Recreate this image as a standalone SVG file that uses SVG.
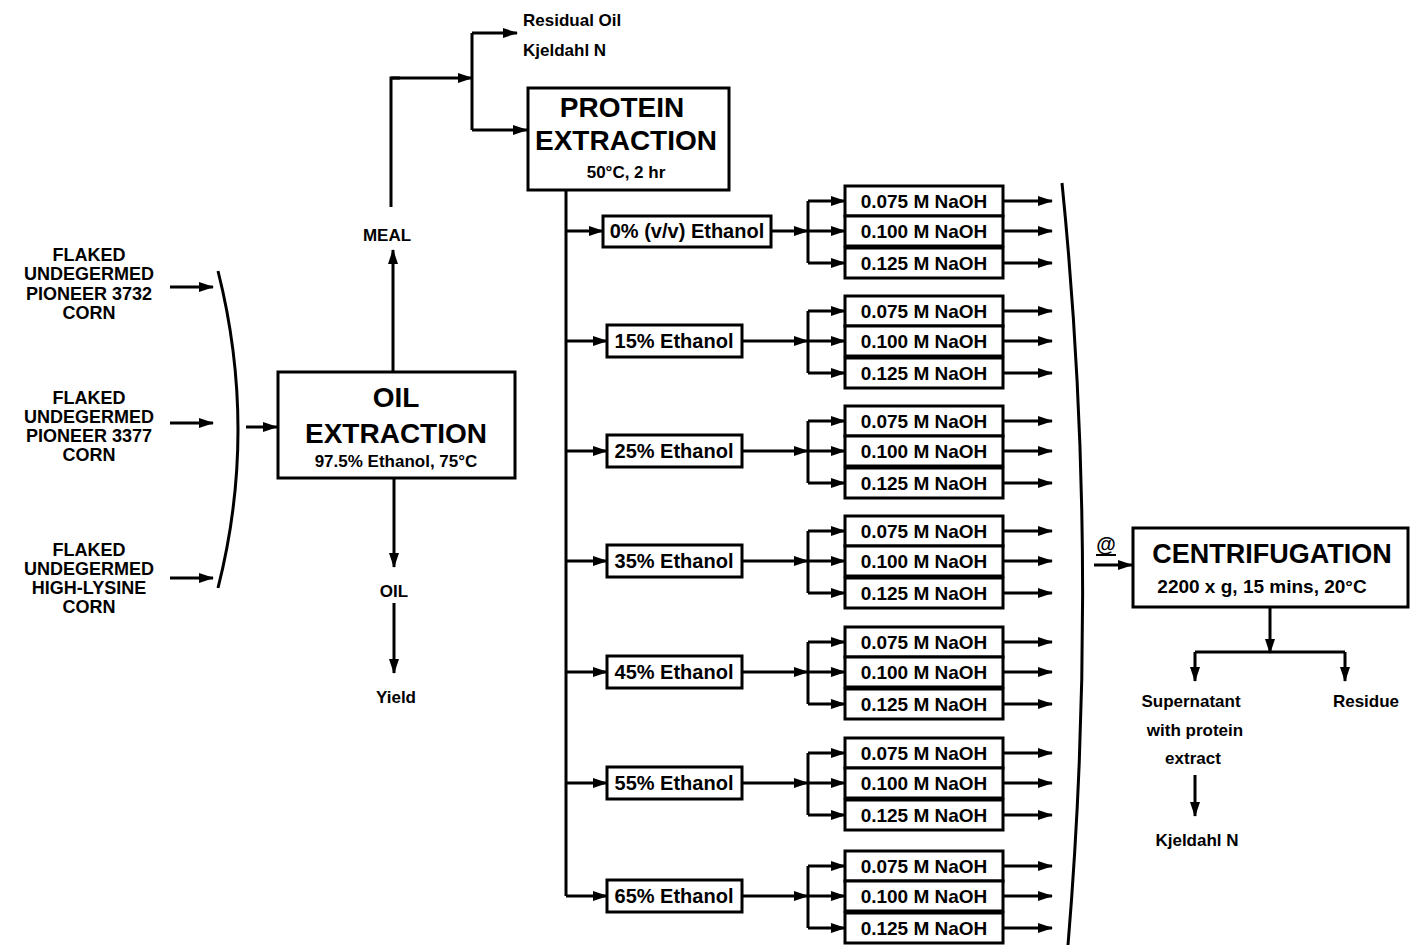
<svg xmlns="http://www.w3.org/2000/svg" width="1413" height="945" viewBox="0 0 1413 945">
<style>
text{font-family:"Liberation Sans",Arial,sans-serif;font-weight:bold;fill:#000}
.c{text-anchor:middle}
.box{fill:#fff;stroke:#000;stroke-width:3}
.ln{fill:none;stroke:#000;stroke-width:3}
.ar{fill:none;stroke:#000;stroke-width:3;marker-end:url(#ah)}
.big{font-size:28px}
.mid{font-size:19px}
.corn{font-size:18px}
.sm{font-size:17px}
.eth{font-size:20px}
.na{font-size:19px}
</style>
<defs>
<marker id="ah" markerUnits="userSpaceOnUse" markerWidth="15" markerHeight="10" refX="14" refY="5" orient="auto">
<path d="M0,0 L15,5 L0,10 z" fill="#000"/>
</marker>
</defs>
<rect width="1413" height="945" fill="#fff"/>

<g id="connectors">
<path class="ar" d="M170,287 H213"/>
<path class="ar" d="M170,423 H213"/>
<path class="ar" d="M170,578 H213"/>
<path class="ln" d="M218,271 Q258,430 218,588"/>
<path class="ar" d="M246,427 H277"/>
<path class="ar" d="M393,372 V250"/>
<path class="ln" d="M391,207 V78 H400"/>
<path class="ar" d="M391,78 H472"/>
<path class="ln" d="M472,33 V130"/>
<path class="ar" d="M472,33 H517"/>
<path class="ar" d="M472,130 H527"/>
<path class="ar" d="M394,478 V567"/>
<path class="ar" d="M394,603 V673"/>
<path class="ln" d="M566,190 V896"/>
<path class="ar" d="M566,231 H603"/>
<path class="ar" d="M566,341 H607"/>
<path class="ar" d="M566,451 H607"/>
<path class="ar" d="M566,561 H607"/>
<path class="ar" d="M566,672 H607"/>
<path class="ar" d="M566,783 H607"/>
<path class="ar" d="M566,896 H607"/>
<path class="ar" d="M771,231 H808"/>
<path class="ar" d="M742,341 H808"/>
<path class="ar" d="M742,451 H808"/>
<path class="ar" d="M742,561 H808"/>
<path class="ar" d="M742,672 H808"/>
<path class="ar" d="M742,783 H808"/>
<path class="ar" d="M742,896 H808"/>
<path class="ln" d="M808,201 V263 M808,311 V373 M808,421 V483 M808,531 V593 M808,642 V704 M808,753 V815 M808,866 V928"/>
<path class="ar" d="M808,201 H845"/><path class="ar" d="M808,231 H845"/><path class="ar" d="M808,263 H845"/>
<path class="ar" d="M808,311 H845"/><path class="ar" d="M808,341 H845"/><path class="ar" d="M808,373 H845"/>
<path class="ar" d="M808,421 H845"/><path class="ar" d="M808,451 H845"/><path class="ar" d="M808,483 H845"/>
<path class="ar" d="M808,531 H845"/><path class="ar" d="M808,561 H845"/><path class="ar" d="M808,593 H845"/>
<path class="ar" d="M808,642 H845"/><path class="ar" d="M808,672 H845"/><path class="ar" d="M808,704 H845"/>
<path class="ar" d="M808,753 H845"/><path class="ar" d="M808,783 H845"/><path class="ar" d="M808,815 H845"/>
<path class="ar" d="M808,866 H845"/><path class="ar" d="M808,896 H845"/><path class="ar" d="M808,928 H845"/>
<path class="ar" d="M1003,201 H1052"/><path class="ar" d="M1003,231 H1052"/><path class="ar" d="M1003,263 H1052"/>
<path class="ar" d="M1003,311 H1052"/><path class="ar" d="M1003,341 H1052"/><path class="ar" d="M1003,373 H1052"/>
<path class="ar" d="M1003,421 H1052"/><path class="ar" d="M1003,451 H1052"/><path class="ar" d="M1003,483 H1052"/>
<path class="ar" d="M1003,531 H1052"/><path class="ar" d="M1003,561 H1052"/><path class="ar" d="M1003,593 H1052"/>
<path class="ar" d="M1003,642 H1052"/><path class="ar" d="M1003,672 H1052"/><path class="ar" d="M1003,704 H1052"/>
<path class="ar" d="M1003,753 H1052"/><path class="ar" d="M1003,783 H1052"/><path class="ar" d="M1003,815 H1052"/>
<path class="ar" d="M1003,866 H1052"/><path class="ar" d="M1003,896 H1052"/><path class="ar" d="M1003,928 H1052"/>
<path class="ln" d="M1062,183 Q1100,560 1068,945"/>
<path class="ln" style="stroke-width:2" d="M1096,555 H1116"/>
<path class="ar" d="M1094,565 H1132"/>
<path class="ar" d="M1270,607 V653"/>
<path class="ln" d="M1195,652 H1345"/>
<path class="ar" d="M1195,652 V681"/>
<path class="ar" d="M1345,652 V681"/>
<path class="ar" d="M1195,775 V816"/>
</g>

<g id="corn1">
<text class="c corn" x="89" y="261">FLAKED</text>
<text class="c corn" x="89" y="280">UNDEGERMED</text>
<text class="c corn" x="89" y="300">PIONEER 3732</text>
<text class="c corn" x="89" y="319">CORN</text>
</g>
<g id="corn2">
<text class="c corn" x="89" y="404">FLAKED</text>
<text class="c corn" x="89" y="423">UNDEGERMED</text>
<text class="c corn" x="89" y="442">PIONEER 3377</text>
<text class="c corn" x="89" y="461">CORN</text>
</g>
<g id="corn3">
<text class="c corn" x="89" y="556">FLAKED</text>
<text class="c corn" x="89" y="575">UNDEGERMED</text>
<text class="c corn" x="89" y="594">HIGH-LYSINE</text>
<text class="c corn" x="89" y="613">CORN</text>
</g>

<g id="oil-extraction">
<rect class="box" x="278" y="372" width="237" height="106"/>
<text class="c big" x="396" y="407">OIL</text>
<text class="c big" x="396" y="443">EXTRACTION</text>
<text class="c" style="font-size:17px" x="396" y="467">97.5% Ethanol, 75°C</text>
</g>
<g id="meal"><text class="c sm" x="387" y="241">MEAL</text></g>
<g id="oil"><text class="c sm" x="394" y="597">OIL</text></g>
<g id="yield"><text class="c sm" x="396" y="703">Yield</text></g>
<g id="residual"><text class="sm" x="523" y="26">Residual Oil</text>
<text class="sm" x="523" y="56">Kjeldahl N</text></g>

<g id="protein-extraction">
<rect class="box" x="528" y="88" width="201" height="102"/>
<text class="c big" x="622" y="117">PROTEIN</text>
<text class="c big" x="626" y="150">EXTRACTION</text>
<text class="c sm" x="626" y="178">50°C, 2 hr</text>
</g>

<g id="eth0"><rect class="box" x="603" y="216" width="168" height="31"/><text class="c eth" x="687" y="238">0% (v/v) Ethanol</text></g>
<g id="eth15"><rect class="box" x="607" y="325" width="135" height="32"/><text class="c eth" x="674" y="348">15% Ethanol</text></g>
<g id="eth25"><rect class="box" x="607" y="435" width="135" height="32"/><text class="c eth" x="674" y="458">25% Ethanol</text></g>
<g id="eth35"><rect class="box" x="607" y="545" width="135" height="32"/><text class="c eth" x="674" y="568">35% Ethanol</text></g>
<g id="eth45"><rect class="box" x="607" y="656" width="135" height="32"/><text class="c eth" x="674" y="679">45% Ethanol</text></g>
<g id="eth55"><rect class="box" x="607" y="767" width="135" height="32"/><text class="c eth" x="674" y="790">55% Ethanol</text></g>
<g id="eth65"><rect class="box" x="607" y="880" width="135" height="32"/><text class="c eth" x="674" y="903">65% Ethanol</text></g>

<g id="naoh0">
<rect class="box" x="845" y="186" width="158" height="30"/><text class="c na" x="924" y="208">0.075 M NaOH</text>
<rect class="box" x="845" y="216" width="158" height="30"/><text class="c na" x="924" y="238">0.100 M NaOH</text>
<rect class="box" x="845" y="248" width="158" height="30"/><text class="c na" x="924" y="270">0.125 M NaOH</text>
</g>
<g id="naoh15">
<rect class="box" x="845" y="296" width="158" height="30"/><text class="c na" x="924" y="318">0.075 M NaOH</text>
<rect class="box" x="845" y="326" width="158" height="30"/><text class="c na" x="924" y="348">0.100 M NaOH</text>
<rect class="box" x="845" y="358" width="158" height="30"/><text class="c na" x="924" y="380">0.125 M NaOH</text>
</g>
<g id="naoh25">
<rect class="box" x="845" y="406" width="158" height="30"/><text class="c na" x="924" y="428">0.075 M NaOH</text>
<rect class="box" x="845" y="436" width="158" height="30"/><text class="c na" x="924" y="458">0.100 M NaOH</text>
<rect class="box" x="845" y="468" width="158" height="30"/><text class="c na" x="924" y="490">0.125 M NaOH</text>
</g>
<g id="naoh35">
<rect class="box" x="845" y="516" width="158" height="30"/><text class="c na" x="924" y="538">0.075 M NaOH</text>
<rect class="box" x="845" y="546" width="158" height="30"/><text class="c na" x="924" y="568">0.100 M NaOH</text>
<rect class="box" x="845" y="578" width="158" height="30"/><text class="c na" x="924" y="600">0.125 M NaOH</text>
</g>
<g id="naoh45">
<rect class="box" x="845" y="627" width="158" height="30"/><text class="c na" x="924" y="649">0.075 M NaOH</text>
<rect class="box" x="845" y="657" width="158" height="30"/><text class="c na" x="924" y="679">0.100 M NaOH</text>
<rect class="box" x="845" y="689" width="158" height="30"/><text class="c na" x="924" y="711">0.125 M NaOH</text>
</g>
<g id="naoh55">
<rect class="box" x="845" y="738" width="158" height="30"/><text class="c na" x="924" y="760">0.075 M NaOH</text>
<rect class="box" x="845" y="768" width="158" height="30"/><text class="c na" x="924" y="790">0.100 M NaOH</text>
<rect class="box" x="845" y="800" width="158" height="30"/><text class="c na" x="924" y="822">0.125 M NaOH</text>
</g>
<g id="naoh65">
<rect class="box" x="845" y="851" width="158" height="30"/><text class="c na" x="924" y="873">0.075 M NaOH</text>
<rect class="box" x="845" y="881" width="158" height="30"/><text class="c na" x="924" y="903">0.100 M NaOH</text>
<rect class="box" x="845" y="913" width="158" height="30"/><text class="c na" x="924" y="935">0.125 M NaOH</text>
</g>

<g id="at"><text class="c" style="font-size:20px" x="1106" y="551">@</text></g>

<g id="centrifugation">
<rect class="box" x="1133" y="528" width="275" height="79"/>
<text class="c" style="font-size:27px" x="1272" y="563">CENTRIFUGATION</text>
<text class="c mid" x="1262" y="593">2200 x g, 15 mins, 20°C</text>
</g>
<g id="supernatant">
<text class="c sm" x="1191" y="707">Supernatant</text>
<text class="c sm" x="1195" y="736">with protein</text>
<text class="c sm" x="1193" y="764">extract</text>
</g>
<g id="residue"><text class="c sm" x="1366" y="707">Residue</text></g>
<g id="kjeldahl"><text class="c sm" x="1197" y="846">Kjeldahl N</text></g>
</svg>
